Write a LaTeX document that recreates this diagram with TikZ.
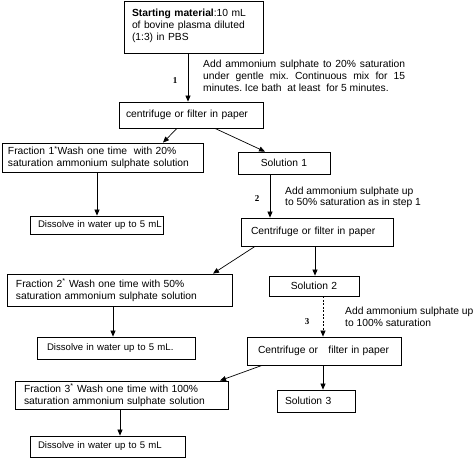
\documentclass[tikz,border=0pt]{standalone}
\usepackage{fontspec}
\setmainfont{Liberation Sans}
\newfontfamily\numfont{Liberation Serif}
\usetikzlibrary{arrows.meta}
\frenchspacing
\tikzset{
  bx/.style={draw=black, line width=0.8pt, inner ysep=0pt, font=\fontsize{10.3}{12}\selectfont, align=left},
  smallbx/.style={bx, font=\fontsize{9.6}{11.5}\selectfont},
  arr/.style={-{Triangle[length=6pt,width=5pt]}, line width=0.7pt},
  note/.style={font=\fontsize{10.3}{12}\selectfont, align=left, inner sep=0pt, anchor=base west},
  steplabel/.style={font=\numfont\bfseries\fontsize{9}{10}\selectfont, inner sep=0pt, anchor=base},
}
\begin{document}
\begin{tikzpicture}[x=1pt,y=-1pt]
\useasboundingbox[fill=white] (0,0) rectangle (474,458);

% boxes
\node[bx, minimum height=52pt, text width=123pt, inner xsep=8pt] (start) at (193.5,27)
  {\textbf{Starting material}:10 mL\\of bovine plasma diluted\\(1:3) in PBS\vspace{2pt}};
\node[bx, minimum height=26pt, text width=130pt, inner xsep=7pt] (c1) at (191,115)
  {\mbox{centrifuge or filter in paper}};
\node[bx, minimum height=29pt, text width=189pt, inner xsep=6pt] (f1) at (102.5,157.5)
  {Fraction 1\textsuperscript{*}Wash one time~ with 20\%\\saturation ammonium sulphate solution};
\node[bx, minimum height=22pt, text width=80pt, inner xsep=6pt, align=center] (s1) at (284,163)
  {Solution 1};
\node[smallbx, minimum height=18pt, text width=117pt, inner xsep=8pt] (d1) at (96.5,225)
  {\mbox{Dissolve in water up to 5 mL}};
\node[bx, minimum height=28pt, text width=132pt, inner xsep=10pt] (c2) at (317,232)
  {\mbox{Centrifuge or filter in paper}};
\node[bx, minimum height=20pt, text width=78pt, inner xsep=6pt, align=center] (s2) at (314,286)
  {Solution 2};
\node[bx, minimum height=32pt, text width=207pt, inner xsep=9pt] (f2) at (119.5,290)
  {Fraction 2\textsuperscript{*} Wash one time with 50\%\\saturation ammonium sulphate solution};
\node[smallbx, minimum height=22pt, text width=138pt, inner xsep=10pt] (d2) at (116,348)
  {\mbox{Dissolve in water up to 5 mL.}};
\node[bx, minimum height=28pt, text width=132pt, inner xsep=11pt] (c3) at (324,351)
  {\mbox{Centrifuge or~~~filter in paper}};
\node[bx, minimum height=22pt, text width=62pt, inner xsep=8pt] (s3) at (316,401)
  {\mbox{Solution 3}};
\node[bx, minimum height=28pt, text width=195pt, inner xsep=9pt] (f3) at (121.5,395)
  {Fraction 3\textsuperscript{*} Wash one time with 100\%\\saturation ammonium sulphate solution};
\node[smallbx, minimum height=21pt, text width=139pt, inner xsep=8pt] (d3) at (107.5,446.5)
  {\mbox{Dissolve in water up to 5 mL}};

% connectors
\draw[arr] ([xshift=-5.5pt]start.south) -- ([xshift=-5.5pt]start.south |- c1.north);
\draw[arr] ([xshift=-14pt]c1.south) -- ([xshift=60.5pt]f1.north);
\draw[arr] ([xshift=24pt]c1.south) -- ([xshift=-19pt]s1.north);
\draw[arr] ([xshift=-5.5pt]f1.south) -- ([xshift=-5.5pt]f1.south |- d1.north);
\draw[arr] ([xshift=-14pt]s1.south) -- ([xshift=-14pt]s1.south |- c2.north);
\draw[arr] ([xshift=-2pt]c2.south) -- ([xshift=-2pt]c2.south |- s2.north);
\draw[arr] ([xshift=-62pt]c2.south) -- ([xshift=93.5pt]f2.north);
\draw[arr] ([xshift=-6.5pt]f2.south) -- ([xshift=-6.5pt]f2.south |- d2.north);
\draw[arr, dashed, dash pattern=on 2pt off 1.5pt] ([xshift=9pt]s2.south) -- ([xshift=9pt]s2.south |- c3.north);
\draw[arr] ([xshift=-1pt]c3.south) -- ([xshift=-1pt]c3.south |- s3.north);
\draw[arr] ([xshift=-62pt]c3.south) -- ([xshift=98.5pt]f3.north);
\draw[arr] ([xshift=-1.5pt]f3.south) -- ([xshift=-1.5pt]f3.south |- d3.north);

% step labels
\node[steplabel] (n1) at (175,83) {1};
\node[steplabel] (n2) at (257,201) {2};
\node[steplabel] (n3) at (307,324) {3};

% annotations (base anchor = baseline of last line)
\node[note] (t1) at (203,91)
  {\makebox[202pt][s]{Add ammonium sulphate to 20\% saturation}\\
   \makebox[202pt][s]{under gentle mix. Continuous mix for 15}\\
   minutes. Ice bath~ at least~ for 5 minutes.};
\node[note, font=\fontsize{10.3}{11.5}\selectfont] (t2) at (285,205.5)
  {Add ammonium sulphate up\\to 50\% saturation as in step 1};
\node[note] (t3) at (345,326)
  {Add ammonium sulphate up\\to 100\% saturation};
\end{tikzpicture}
\end{document}
